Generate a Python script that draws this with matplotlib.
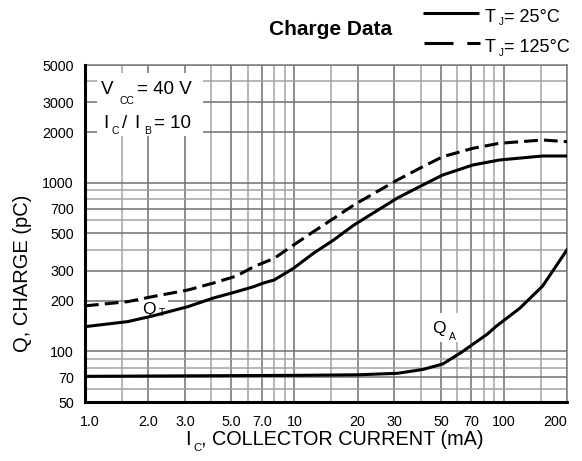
import matplotlib
matplotlib.use('Agg')
import matplotlib.pyplot as plt
from matplotlib.lines import Line2D
from matplotlib.patches import Rectangle
from matplotlib.ticker import FixedLocator, NullFormatter
from matplotlib.transforms import ScaledTranslation

plt.rcParams['font.family'] = ['Liberation Sans', 'DejaVu Sans']

# ---- data ----
ic_qt25 = [1.0, 1.6, 2.1, 3.1, 4.1, 5.3, 6.4, 7.1, 8.0, 9.9, 12.3, 15.4, 19.2, 31, 41, 51, 71, 95, 153, 200]
qt25 = [140, 150, 162, 184, 207, 226, 242, 254, 265, 311, 381, 458, 561, 812, 970, 1112, 1275, 1365, 1442, 1442]

ic_qt125 = [1.0, 1.6, 2.1, 3.1, 4.1, 5.3, 6.4, 8.0, 9.9, 12.3, 15.4, 19.2, 31, 41, 51, 71, 95, 153, 200]
qt125 = [186, 197, 211, 231, 254, 280, 318, 356, 427, 512, 615, 738, 1039, 1246, 1428, 1601, 1715, 1794, 1753]

ic_qa = [1.0, 10.5, 20, 31, 41, 51, 63, 71, 83, 92, 119, 153, 200]
qa = [71, 72, 72.5, 74, 78, 84, 99, 110, 126, 141, 180, 244, 400]

x_major = [1, 2, 3, 5, 7, 10, 20, 30, 50, 70, 100, 200]
x_major_labels = ['1.0', '2.0', '3.0', '5.0', '7.0', '10', '20', '30', '50', '70', '100', '200']
x_minor = [1.5, 4, 6, 8, 9, 15, 40, 60, 80, 90, 150]
y_major = [50, 70, 100, 200, 300, 500, 700, 1000, 2000, 3000, 5000]
y_major_labels = ['50', '70', '100', '200', '300', '500', '700', '1000', '2000', '3000', '5000']
y_minor = [60, 80, 90, 400, 600, 800, 900, 4000]

W, H = 582, 461
fig = plt.figure(figsize=(W / 100, H / 100), dpi=100)
L, R, T, B = 85, 567, 65, 402
ax = fig.add_axes([L / W, 1 - B / H, (R - L) / W, (B - T) / H])
ax.set_xscale('log')
ax.set_yscale('log')
ax.set_xlim(1, 200)
ax.set_ylim(50, 5000)

ax.xaxis.set_major_locator(FixedLocator(x_major))
ax.xaxis.set_minor_locator(FixedLocator(x_minor))
ax.yaxis.set_major_locator(FixedLocator(y_major))
ax.yaxis.set_minor_locator(FixedLocator(y_minor))
ax.set_xticklabels(x_major_labels)
ax.set_yticklabels(y_major_labels)
ax.xaxis.set_minor_formatter(NullFormatter())
ax.yaxis.set_minor_formatter(NullFormatter())
ax.tick_params(which='both', length=0)
ax.tick_params(axis='x', pad=9, labelsize=10.3)
ax.tick_params(axis='y', pad=8, labelsize=10.3)
xt = ax.get_xticklabels()
xt[0].set_transform(xt[0].get_transform() + ScaledTranslation(5 / 100, 0, fig.dpi_scale_trans))
xt[-1].set_ha('right')

ax.grid(True, which='major', color='#6f6f6f', lw=1.1, zorder=1)
ax.grid(True, which='minor', color='#a3a3a3', lw=1.1, zorder=1)
ax.set_axisbelow(True)

for s in ['top', 'right']:
    ax.spines[s].set_color('#7a7a7a')
    ax.spines[s].set_linewidth(1.1)
for s in ['left', 'bottom']:
    ax.spines[s].set_color('black')
    ax.spines[s].set_linewidth(2.2)
    ax.spines[s].set_zorder(7)

ax.plot(ic_qt25, qt25, color='black', lw=2.2, zorder=5)
ax.plot(ic_qt125, qt125, color='black', lw=2.2, zorder=5, dashes=(4.5, 2.0))
ax.plot(ic_qa, qa, color='black', lw=2.2, zorder=5)

tf = fig.transFigure


def wbox(x0, y0, x1, y1):
    ax.add_patch(Rectangle((x0 / W, 1 - y1 / H), (x1 - x0) / W, (y1 - y0) / H,
                           facecolor='white', edgecolor='none', transform=tf,
                           clip_on=False, zorder=3))


def ptext(x, y, s, size, **kw):
    ax.text(x / W, 1 - y / H, s, fontsize=size, ha='left', va='baseline',
            transform=tf, clip_on=False, zorder=6, **kw)


# condition box
wbox(97, 73, 203, 136)
ptext(101, 94, 'V', 13.5)
ptext(119, 104.5, 'CC', 7.5)
ptext(137, 94, '= 40 V', 13.5)
ptext(103, 128, 'I', 13.5)
ptext(111, 134.5, 'C', 7.5)
ptext(122, 128, '/', 13.5)
ptext(134, 128, 'I', 13.5)
ptext(144, 134.5, 'B', 7.5)
ptext(154, 128, '= 10', 13.5)

# curve labels
wbox(139, 298, 168, 318)
ptext(142, 314, 'Q', 12.5)
ptext(159, 316, 'T', 7.5)
wbox(428, 313, 468, 342)
ptext(432, 333, 'Q', 12.5)
ptext(449, 340, 'A', 7.5)

# title and legend
fig.text(331 / W, 1 - 35 / H, 'Charge Data', fontsize=15, fontweight='bold', ha='center', va='baseline')
fig.add_artist(Line2D([423 / W, 479 / W], [1 - 13.5 / H, 1 - 13.5 / H], color='black', lw=2.2,
                      solid_capstyle='butt', transform=tf))
fig.add_artist(Line2D([424 / W, 480 / W], [1 - 43.5 / H, 1 - 43.5 / H], color='black', lw=2.2,
                      dashes=(9.5, 4.5), dash_capstyle='butt', transform=tf))
fig.text(485 / W, 1 - 22 / H, 'T', fontsize=13, ha='left', va='baseline')
fig.text(499 / W, 1 - 25 / H, 'J', fontsize=7, ha='left', va='baseline')
fig.text(504 / W, 1 - 22 / H, '= 25°C', fontsize=13, ha='left', va='baseline')
fig.text(485 / W, 1 - 52 / H, 'T', fontsize=13, ha='left', va='baseline')
fig.text(499 / W, 1 - 56 / H, 'J', fontsize=7, ha='left', va='baseline')
fig.text(504 / W, 1 - 52 / H, '= 125°C', fontsize=13, ha='left', va='baseline')

# axis titles
fig.text(185 / W, 1 - 445 / H, 'I', fontsize=14.3, ha='left', va='baseline')
fig.text(193 / W, 1 - 451 / H, 'C', fontsize=8, ha='left', va='baseline')
fig.text(201 / W, 1 - 445 / H, ', COLLECTOR CURRENT (mA)', fontsize=14.3, ha='left', va='baseline')
fig.text(23 / W, 1 - 273 / H, 'Q, CHARGE (pC)', fontsize=14.5, ha='center', va='center', rotation=90)

fig.savefig('out.png', dpi=100)
